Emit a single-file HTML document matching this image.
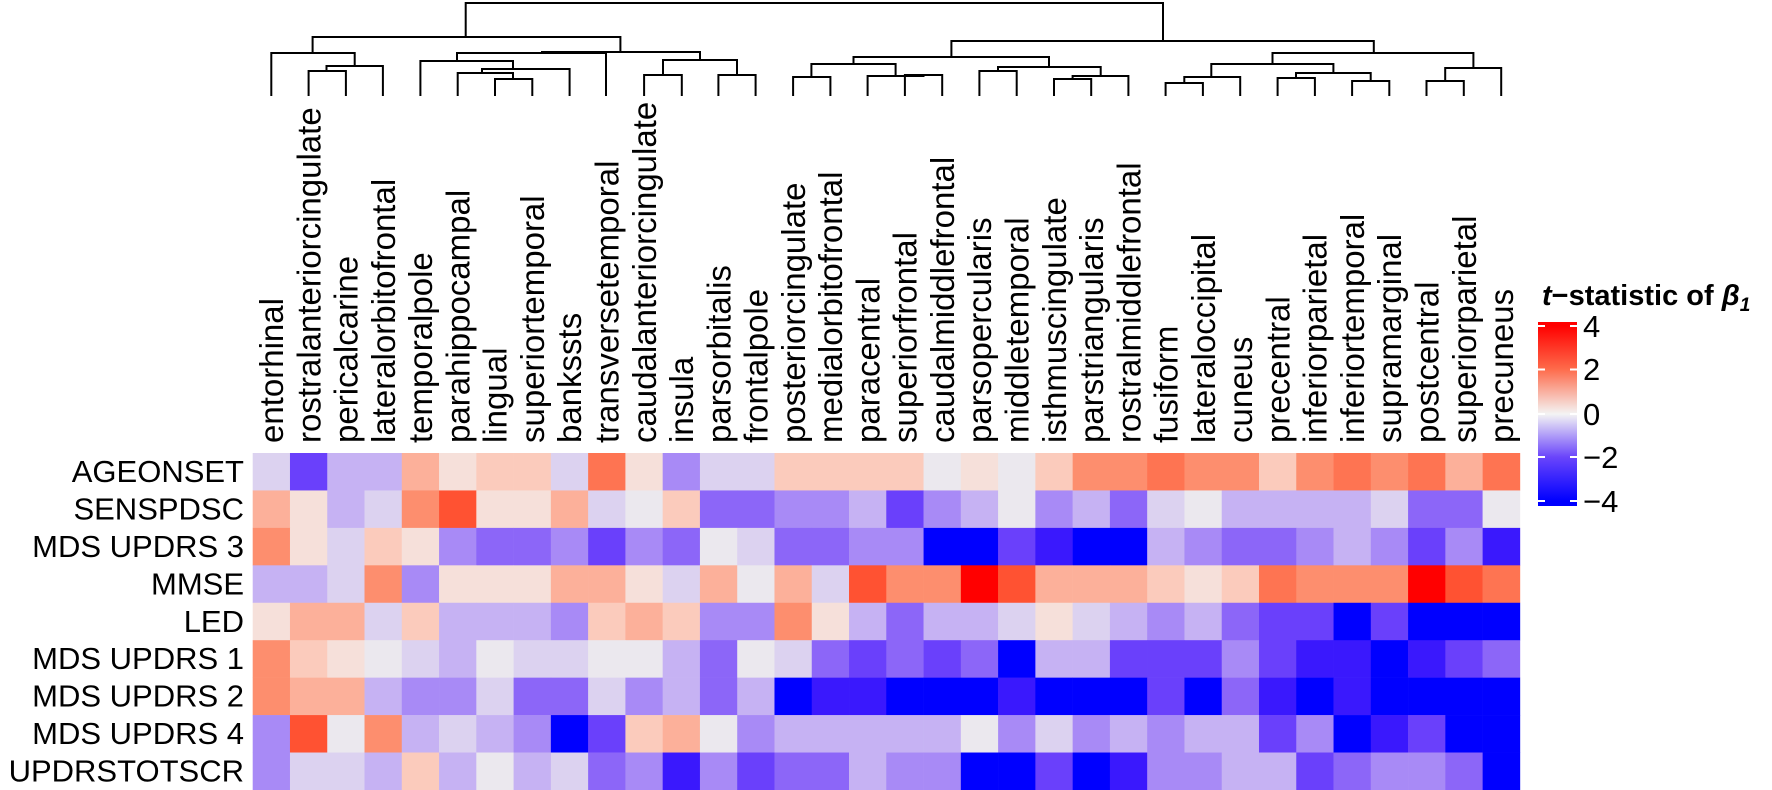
<!DOCTYPE html>
<html><head><meta charset="utf-8"><style>
html,body{margin:0;padding:0;background:#fff;}
svg{display:block;}
text{font-family:"Liberation Sans",Arial,sans-serif;fill:#000;}
</style></head><body>
<svg id="s" width="1772" height="790" viewBox="0 0 1772 790" xmlns="http://www.w3.org/2000/svg">
<defs>
<linearGradient id="cb" x1="0" y1="0" x2="0" y2="1">
<stop offset="0" stop-color="#ff0000"/>
<stop offset="0.02" stop-color="#ff0000"/>
<stop offset="0.255" stop-color="#fe6a4a"/>
<stop offset="0.5" stop-color="#f4f4f4"/>
<stop offset="0.734" stop-color="#6a45fb"/>
<stop offset="0.973" stop-color="#0000ff"/>
<stop offset="1" stop-color="#0000ff"/>
</linearGradient>
</defs>
<g id="cells"></g>
<g stroke="#000" stroke-width="2" fill="none" stroke-linecap="square">
<path d="M465.7,37 V3 H1163 V41"/>
<path d="M312.6,53 V37 H620.4 V52"/>
<path d="M271.3,95 V53 H354.7 V66"/>
<path d="M326.5,71 V66 H382.9 V95"/>
<path d="M308.6,95 V71 H345.9 V95"/>
<path d="M542,53 V52 H700 V60"/>
<path d="M457,53 H606 V95"/>
<path d="M457,61 V53"/>
<path d="M420.4,95 V61 H513 V69"/>
<path d="M482,73 V69 H569.6 V95"/>
<path d="M457.7,95 V73 H513 V79"/>
<path d="M495,95 V79 H532.3 V95"/>
<path d="M663,75 V60 H737 V75"/>
<path d="M644.1,95 V75 H681.8 V95"/>
<path d="M718.4,95 V75 H755.6 V95"/>
<path d="M951.4,57 V41 H1373.8 V53"/>
<path d="M853.5,64 V57 H1049 V67"/>
<path d="M811.4,77 V64 H895.6 V76"/>
<path d="M793.1,95 V77 H830.4 V95"/>
<path d="M867.6,95 V76 H923.5 V75"/>
<path d="M904.9,95 V75 H942.2 V95"/>
<path d="M998,71 V67 H1100.7 V76"/>
<path d="M979.4,95 V71 H1016.7 V95"/>
<path d="M1072.6,79 V76 H1128.4 V95"/>
<path d="M1054,95 V79 H1091.2 V95"/>
<path d="M1272.5,64 V53 H1473.4 V68"/>
<path d="M1211.3,77 V64 H1333.4 V73"/>
<path d="M1184.3,83 V77 H1240.2 V95"/>
<path d="M1165.6,95 V83 H1202.9 V95"/>
<path d="M1296,78 V73 H1370.7 V81"/>
<path d="M1277.6,95 V78 H1314.9 V95"/>
<path d="M1352.1,95 V81 H1389.3 V95"/>
<path d="M1445.2,81 V68 H1501.2 V95"/>
<path d="M1426.5,95 V81 H1463.8 V95"/>
</g>
<g font-size="33">
<text transform="translate(283,443) rotate(-90)">entorhinal</text>
<text transform="translate(320.3,443) rotate(-90)">rostralanteriorcingulate</text>
<text transform="translate(357.6,443) rotate(-90)">pericalcarine</text>
<text transform="translate(394.8,443) rotate(-90)">lateralorbitofrontal</text>
<text transform="translate(432.1,443) rotate(-90)">temporalpole</text>
<text transform="translate(469.4,443) rotate(-90)">parahippocampal</text>
<text transform="translate(506.7,443) rotate(-90)">lingual</text>
<text transform="translate(544,443) rotate(-90)">superiortemporal</text>
<text transform="translate(581.2,443) rotate(-90)">bankssts</text>
<text transform="translate(618.5,443) rotate(-90)">transversetemporal</text>
<text transform="translate(655.8,443) rotate(-90)">caudalanteriorcingulate</text>
<text transform="translate(693.1,443) rotate(-90)">insula</text>
<text transform="translate(730.3,443) rotate(-90)">parsorbitalis</text>
<text transform="translate(767.6,443) rotate(-90)">frontalpole</text>
<text transform="translate(804.9,443) rotate(-90)">posteriorcingulate</text>
<text transform="translate(842.2,443) rotate(-90)">medialorbitofrontal</text>
<text transform="translate(879.4,443) rotate(-90)">paracentral</text>
<text transform="translate(916.7,443) rotate(-90)">superiorfrontal</text>
<text transform="translate(954,443) rotate(-90)">caudalmiddlefrontal</text>
<text transform="translate(991.2,443) rotate(-90)">parsopercularis</text>
<text transform="translate(1028.5,443) rotate(-90)">middletemporal</text>
<text transform="translate(1065.8,443) rotate(-90)">isthmuscingulate</text>
<text transform="translate(1103.1,443) rotate(-90)">parstriangularis</text>
<text transform="translate(1140.3,443) rotate(-90)">rostralmiddlefrontal</text>
<text transform="translate(1177.6,443) rotate(-90)">fusiform</text>
<text transform="translate(1214.9,443) rotate(-90)">lateraloccipital</text>
<text transform="translate(1252.2,443) rotate(-90)">cuneus</text>
<text transform="translate(1289.4,443) rotate(-90)">precentral</text>
<text transform="translate(1326.7,443) rotate(-90)">inferiorparietal</text>
<text transform="translate(1364,443) rotate(-90)">inferiortemporal</text>
<text transform="translate(1401.2,443) rotate(-90)">supramarginal</text>
<text transform="translate(1438.5,443) rotate(-90)">postcentral</text>
<text transform="translate(1475.8,443) rotate(-90)">superiorparietal</text>
<text transform="translate(1513.1,443) rotate(-90)">precuneus</text>
</g>
<g font-size="31" text-anchor="end">
<text x="244" y="482">AGEONSET</text>
<text x="244" y="519.5">SENSPDSC</text>
<text x="244" y="557">MDS UPDRS 3</text>
<text x="244" y="594.4">MMSE</text>
<text x="244" y="631.8">LED</text>
<text x="244" y="669.2">MDS UPDRS 1</text>
<text x="244" y="706.7">MDS UPDRS 2</text>
<text x="244" y="744.1">MDS UPDRS 4</text>
<text x="244" y="781.5">UPDRSTOTSCR</text>
</g>
<text x="1542" y="305" font-size="29" font-weight="bold"><tspan font-style="italic">t</tspan>−statistic of <tspan font-style="italic">β</tspan><tspan font-style="italic" font-size="19" dy="6">1</tspan></text>
<rect x="1538" y="322" width="39" height="184" fill="url(#cb)"/>
<g stroke="#fff" stroke-width="2">
<line x1="1538" y1="326" x2="1545" y2="326"/><line x1="1570" y1="326" x2="1577" y2="326"/>
<line x1="1538" y1="369.5" x2="1545" y2="369.5"/><line x1="1570" y1="369.5" x2="1577" y2="369.5"/>
<line x1="1538" y1="414" x2="1545" y2="414"/><line x1="1570" y1="414" x2="1577" y2="414"/>
<line x1="1538" y1="457" x2="1545" y2="457"/><line x1="1570" y1="457" x2="1577" y2="457"/>
<line x1="1538" y1="501" x2="1545" y2="501"/><line x1="1570" y1="501" x2="1577" y2="501"/>
</g>
<g font-size="31">
<text x="1583" y="337">4</text>
<text x="1583" y="380">2</text>
<text x="1583" y="425">0</text>
<text x="1583" y="468">−2</text>
<text x="1583" y="512">−4</text>
</g>
</svg>
<script>
var P={b0:"#ebe8ee",b1:"#dcd2f0",b2:"#c6b2f3",b3:"#a88af6",b4:"#8c66f8",b5:"#6a40fb",b6:"#3a18fd",b7:"#0000ff",r1:"#f6e0da",r2:"#fbcbbc",r3:"#fcb09a",r4:"#fd8e6e",r5:"#fe7452",r6:"#ff5232",r7:"#ff0000"};
var R=[
"b1 b5 b2 b2 r3 r1 r2 r2 b1 r5 r1 b3 b1 b1 r2 r2 r2 r2 b0 r1 b0 r2 r4 r4 r5 r4 r4 r2 r4 r5 r4 r5 r3 r5",
"r3 r1 b2 b1 r4 r6 r1 r1 r3 b1 b0 r2 b4 b4 b3 b3 b2 b5 b3 b2 b0 b3 b2 b4 b1 b0 b2 b2 b2 b2 b1 b4 b4 b0",
"r4 r1 b1 r2 r1 b3 b4 b4 b3 b5 b3 b4 b0 b1 b4 b4 b3 b3 b7 b7 b5 b6 b7 b7 b2 b3 b4 b4 b3 b2 b3 b5 b3 b6",
"b2 b2 b1 r4 b3 r1 r1 r1 r3 r3 r1 b1 r3 b0 r3 b1 r6 r4 r4 r7 r6 r3 r3 r3 r2 r1 r2 r5 r4 r4 r4 r7 r6 r5",
"r1 r3 r3 b1 r2 b2 b2 b2 b3 r2 r3 r2 b3 b3 r4 r1 b2 b4 b2 b2 b1 r1 b1 b2 b3 b2 b4 b5 b5 b7 b5 b7 b7 b7",
"r4 r2 r1 b0 b1 b2 b0 b1 b1 b0 b0 b2 b4 b0 b1 b4 b5 b4 b5 b4 b7 b2 b2 b5 b5 b5 b3 b5 b6 b6 b7 b6 b5 b4",
"r4 r3 r3 b2 b3 b3 b1 b4 b4 b1 b3 b2 b4 b2 b7 b6 b6 b7 b7 b7 b6 b7 b7 b7 b5 b7 b4 b6 b7 b6 b7 b7 b7 b7",
"b3 r6 b0 r4 b2 b1 b2 b3 b7 b5 r2 r3 b0 b3 b2 b2 b2 b2 b2 b0 b3 b1 b3 b2 b3 b2 b2 b5 b3 b7 b6 b5 b7 b7",
"b3 b1 b1 b2 r2 b2 b0 b2 b1 b4 b3 b6 b3 b5 b4 b4 b2 b3 b3 b7 b7 b5 b7 b6 b3 b3 b2 b2 b5 b4 b3 b3 b4 b7"];
var g=document.getElementById("cells"),ns="http://www.w3.org/2000/svg",x0=252.7,w=37.27,y0=453,h=37.44;
for(var r=0;r<9;r++){var c=R[r].split(" ");for(var k=0;k<34;k++){var e=document.createElementNS(ns,"rect");
e.setAttribute("x",(x0+k*w).toFixed(2));e.setAttribute("y",(y0+r*h).toFixed(2));
e.setAttribute("width",(w+0.3).toFixed(2));e.setAttribute("height",(h+0.3).toFixed(2));
e.setAttribute("fill",P[c[k]]);g.appendChild(e);}}
</script>
</body></html>
